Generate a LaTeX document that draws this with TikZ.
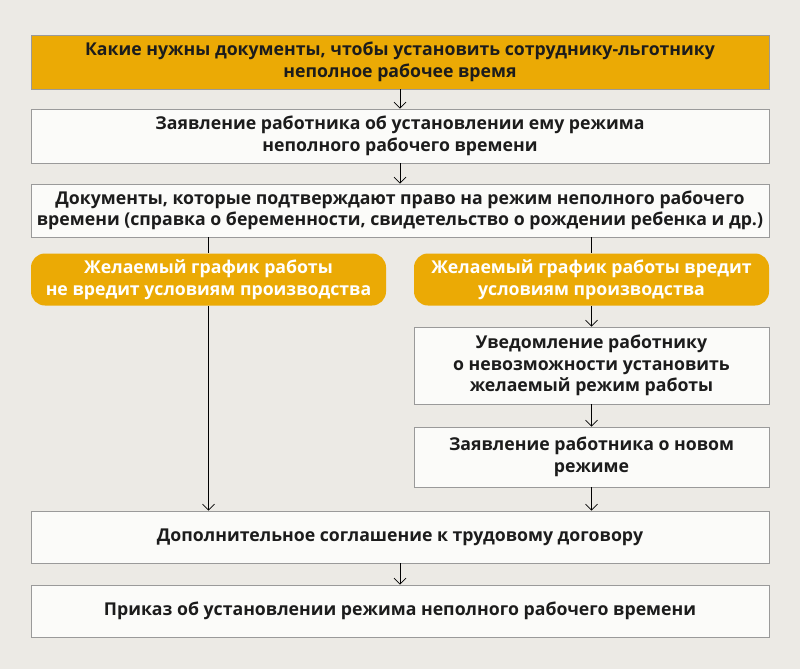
\documentclass[tikz,border=0pt]{standalone}
\usepackage{fontspec}
\setmainfont{Open Sans}
\usetikzlibrary{arrows.meta}

\definecolor{bg}{HTML}{ECEAE5}
\definecolor{amber}{HTML}{EBAA05}
\definecolor{boxfill}{HTML}{FBFBF9}
\definecolor{edge}{HTML}{9A9A9A}
\definecolor{ink}{HTML}{1C1C1C}

\begin{document}
\begin{tikzpicture}[x=1pt, y=-1pt,
    box/.style = {draw=edge, fill=boxfill, line width=0.8pt, align=center, inner sep=0pt, text=ink, font=\bfseries\fontsize{17.7}{21.5}\selectfont},
    wide/.style = {box, minimum width=738pt},
    half/.style = {box, minimum width=355pt},
    head/.style = {wide, fill=amber},
    cond/.style = {half, draw=none, fill=amber, rounded corners=14pt, text=white},
    arr/.style = {-{Straight Barb[length=6pt,width=12pt]}, line width=0.7pt}]
    \fill[bg] (0,0) rectangle (800,669);

    \node[head, minimum height=54pt] at (400, 62) (q) {Какие нужны документы, чтобы установить сотруднику-льготнику\\неполное рабочее время};
    \node[wide, minimum height=54pt] at (400, 136) (req) {Заявление работника об установлении ему режима\\неполного рабочего времени};
    \node[wide, minimum height=53pt] at (400, 210.5) (docs) {Документы, которые подтверждают право на режим неполного рабочего\\времени (справка о беременности, свидетельство о рождении ребенка и др.)};

    \node[cond, minimum height=52pt] at (208.5, 279.5) (ok) {Желаемый график работы\\не вредит условиям производства};
    \node[cond, minimum height=52pt] at (591.5, 279.5) (bad) {Желаемый график работы вредит\\условиям производства};

    \node[half, minimum height=77pt] at (591.5, 365.5) (notice) {Уведомление работнику\\о невозможности установить\\желаемый режим работы};
    \node[half, minimum height=60pt] at (591.5, 457) (newreq) {Заявление работника о новом\\режиме};

    \node[wide, minimum height=52pt] at (400, 537) (agree) {Дополнительное соглашение к трудовому договору};
    \node[wide, minimum height=52pt] at (400, 611) (order) {Приказ об установлении режима неполного рабочего времени};

    \draw[arr] (q) -- (req);
    \draw[arr] (req) -- (docs);
    \draw (ok.north |- docs.south) -- (ok.north);
    \draw (bad.north |- docs.south) -- (bad.north);
    \draw[arr] (ok.south) -- (ok.south |- agree.north);
    \draw[arr] (bad) -- (notice);
    \draw[arr] (notice) -- (newreq);
    \draw[arr] (newreq.south) -- (newreq.south |- agree.north);
    \draw[arr] (agree) -- (order);
\end{tikzpicture}
\end{document}
